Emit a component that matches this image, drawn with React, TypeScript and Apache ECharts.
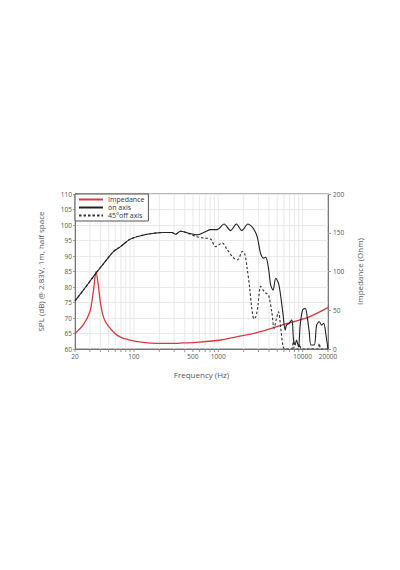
import React, { useEffect, useRef } from "react";
import * as echarts from "echarts";

// Impedance (Ohm) vs frequency (Hz)
const impFreq = [20, 25, 30, 33, 35.6, 37.8, 40.4, 45, 57, 70, 90, 130, 188, 270, 356, 600, 1070, 1680, 3180, 6630, 11400, 20000];
const impOhm = [20, 31, 48, 74, 100, 82, 57, 37, 22, 15, 11.6, 8.5, 7.3, 7.3, 7.7, 9, 11.6, 15.9, 22.3, 33.2, 40.4, 53.3];

// On-axis SPL (dB)
const onFreq = [20, 25, 36, 45, 57, 70, 90, 143, 225, 283, 310, 356, 450, 560, 700, 810, 975, 1170, 1400, 1640, 1900, 2250, 2500, 2700, 2910, 3180, 3450, 3660, 3940, 4190, 4460, 4800, 5180, 5510, 5870, 6210, 6440, 6920, 7450, 7810, 8160, 8450, 8950, 9360, 10000, 10750, 11400, 11970, 12560, 13740, 14670, 15770, 16820, 17780, 18920, 19820, 20000];
const onSpl = [75.5, 78.9, 84.7, 88, 91.4, 93.1, 95.4, 97, 97.6, 97.6, 97.0, 98, 97.3, 96.8, 97.8, 98.5, 98.5, 100.3, 98.2, 100.3, 98.2, 100.3, 99.5, 98.2, 96, 90.8, 89.3, 89.6, 86, 80.5, 79, 82.8, 81.2, 76.9, 71, 66.1, 67.7, 68.3, 69.4, 62.9, 61.3, 62.9, 60.7, 67.7, 72.6, 73.1, 69.9, 65.6, 61.3, 61.3, 67.7, 68.8, 67.7, 68.3, 64.5, 60.7, 60];

// 45° off-axis SPL (dB)
const offFreq = [20, 25, 36, 45, 57, 70, 90, 143, 225, 283, 310, 356, 450, 540, 670, 810, 930, 1115, 1280, 1530, 1700, 1930, 2070, 2200, 2350, 2500, 2650, 2800, 2950, 3180, 3400, 3660, 3940, 4310, 4590, 4900, 5180, 5510, 5870, 6200, 7400, 7750, 8000, 9000, 9280, 9600, 15000, 15770, 16500, 20000];
const offSpl = [75.5, 78.9, 84.7, 88, 91.4, 93.1, 95.4, 97, 97.6, 97.6, 97.0, 98, 97.2, 96.3, 95.8, 95.5, 93, 94.2, 92, 89.3, 88.8, 91.5, 90.5, 86, 80, 73, 69.7, 70.5, 74, 80.2, 79, 78, 77.4, 72, 66.7, 69.9, 72, 66.7, 60.7, 60, 60, 62.4, 60, 60, 61.5, 60, 60, 61.8, 60, 60];

// Frequency tick labels and grid lines
const xTickLabels = [20, 100, 500, 1000, 10000, 20000];
const gridFreqs = [20, 30, 40, 50, 60, 70, 80, 90, 100, 200, 300, 400, 500, 600, 700, 800, 900, 1000, 2000, 3000, 4000, 5000, 6000, 7000, 8000, 9000, 10000, 20000];

const zip = (a: number[], b: number[]) => a.map((v, i) => [v, b[i]]);

export default function App() {
  const ref = useRef<HTMLDivElement>(null);
  useEffect(() => {
    if (!ref.current) return;
    const chart = echarts.init(ref.current, undefined, { renderer: "svg" });
    const font = "'Open Sans', 'DejaVu Sans', sans-serif";
    const txt = "#555";
    chart.setOption({
      animation: false,
      textStyle: { fontFamily: font },
      grid: {
        left: 75, top: 194, width: 253, height: 155,
        show: true, borderColor: "#777", borderWidth: 1, backgroundColor: "transparent",
      },
      legend: {
        data: ["Impedance", "on axis", "45°off axis"],
        orient: "vertical",
        left: 75, top: 194,
        padding: [2, 4, 2, 3],
        itemWidth: 24, itemHeight: 6, itemGap: 1,
        backgroundColor: "#fff",
        borderColor: "#555", borderWidth: 1,
        itemStyle: { opacity: 0 },
        textStyle: { fontSize: 7, color: "#333", fontFamily: font },
      },
      xAxis: {
        type: "log", logBase: 10, min: 20, max: 20000,
        name: "Frequency (Hz)", nameLocation: "middle", nameGap: 21,
        nameTextStyle: { fontSize: 8, color: txt, fontFamily: font },
        axisLine: { show: true, lineStyle: { color: "#777" } },
        axisTick: { show: false }, axisLabel: { show: false },
        splitLine: { show: false }, minorSplitLine: { show: false },
      },
      yAxis: [
        {
          type: "value", min: 60, max: 110, interval: 5,
          name: "SPL (dB) @ 2.83V, 1m, half space", nameLocation: "middle", nameGap: 31, nameRotate: 90,
          nameTextStyle: { fontSize: 8, color: txt, fontFamily: font },
          axisLine: { show: true, lineStyle: { color: "#777" } },
          axisTick: { show: true, length: 2, lineStyle: { color: "#999" } },
          axisLabel: { fontSize: 6.5, color: txt, margin: 3, fontFamily: font },
          splitLine: { show: true, lineStyle: { color: "#e9e9e9", width: 1 } },
        },
        {
          type: "value", min: 0, max: 200, interval: 50, position: "right",
          name: "Impedance (Ohm)", nameLocation: "middle", nameGap: 27, nameRotate: 90,
          nameTextStyle: { fontSize: 8, color: txt, fontFamily: font },
          axisLine: { show: true, lineStyle: { color: "#777" } },
          axisTick: { show: true, length: 3, lineStyle: { color: "#999" } },
          axisLabel: { fontSize: 6.5, color: txt, margin: 5, fontFamily: font },
          splitLine: { show: false },
        },
      ],
      series: [
        {
          name: "vgrid", type: "custom", silent: true, z: 0,
          data: gridFreqs.map((f) => [f, 60]),
          renderItem: (params: any, api: any) => {
            const f = api.value(0);
            const b = api.coord([f, 60]);
            const t = api.coord([f, 110]);
            return {
              type: "group",
              children: [
                { type: "line", shape: { x1: b[0], y1: b[1], x2: t[0], y2: t[1] }, style: { stroke: "#e9e9e9", lineWidth: 1 } },
                { type: "line", shape: { x1: b[0], y1: b[1], x2: b[0], y2: b[1] + 3 }, style: { stroke: "#999", lineWidth: 1 } },
              ],
            };
          },
        },
        {
          name: "xlabels", type: "custom", silent: true, z: 1,
          data: xTickLabels.map((f) => [f, 60]),
          renderItem: (params: any, api: any) => {
            const f = api.value(0);
            const p = api.coord([f, 60]);
            return {
              type: "text",
              x: p[0], y: p[1] + 4,
              style: { text: String(f), align: "center", verticalAlign: "top", fontSize: 6.5, fill: txt, fontFamily: font },
            };
          },
        },
        {
          name: "Impedance", type: "line", yAxisIndex: 1, data: zip(impFreq, impOhm),
          symbol: "none", smooth: 0.3, z: 3,
          lineStyle: { color: "#d93a40", width: 1.3 }, itemStyle: { color: "#d93a40" },
        },
        {
          name: "45°off axis", type: "line", data: zip(offFreq, offSpl),
          symbol: "none", smooth: 0.3, z: 4,
          lineStyle: { color: "#333", width: 1.1, type: [2.5, 2] }, itemStyle: { color: "#333" },
        },
        {
          name: "on axis", type: "line", data: zip(onFreq, onSpl),
          symbol: "none", smooth: 0.3, z: 5,
          lineStyle: { color: "#222", width: 1.1 }, itemStyle: { color: "#222" },
        },
      ],
    });
    return () => chart.dispose();
  }, []);
  return <div ref={ref} style={{ position: "fixed", left: 0, top: 0, width: 400, height: 570, background: "#fff" }} />;
}
